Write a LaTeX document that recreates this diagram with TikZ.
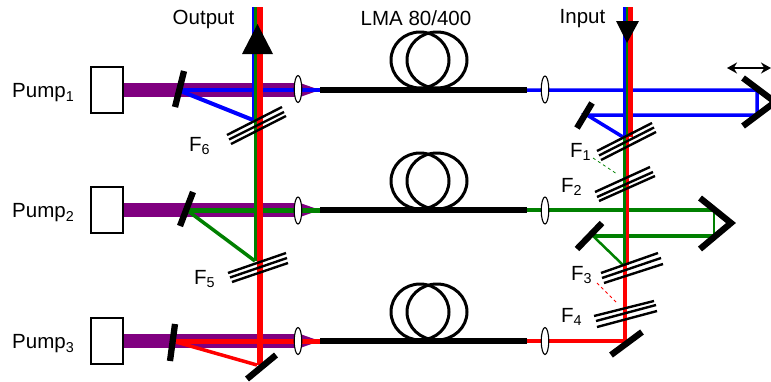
\documentclass[tikz,border=0pt]{standalone}
\usepackage{fontspec}
\setmainfont{Liberation Sans}
\usetikzlibrary{arrows.meta,positioning,shapes.geometric}

\begin{document}
\begin{tikzpicture}[x=1pt,y=-1pt,
		pumpbox/.style={draw,line width=1.3pt,minimum width=32pt,minimum height=46pt,inner sep=0pt},
		lens/.style={draw,ellipse,fill=white,line width=1.1pt,minimum width=7.5pt,minimum height=27pt,inner sep=0pt},
		lbl/.style={inner sep=0pt,font=\fontsize{20.5}{23}\selectfont},
		fibre/.style={line width=5.5pt},
		mirror/.style={line width=6.3pt},
		pumpbeam/.style={line width=14pt,color=beampurple},
		filterline/.style={line width=2.4pt},
		coil/.style={line width=3pt}]
		\definecolor{beampurple}{RGB}{128,0,128}
		\definecolor{beamgreen}{RGB}{0,128,0}
		\useasboundingbox (0,0) rectangle (771,381);
		% pumps
		\node[pumpbox] (pumpa) at (107,90) {};
		\node[pumpbox] (pumpb) at (107,210) {};
		\node[pumpbox] (pumpc) at (107,341) {};
		\node[lbl,anchor=west] (pumpatext) at (12,93) {Pump\textsubscript{1}};
		\node[lbl,anchor=west] (pumpbtext) at (12,213) {Pump\textsubscript{2}};
		\node[lbl,anchor=west] (pumpctext) at (12,344) {Pump\textsubscript{3}};
		% purple beams
		\draw[pumpbeam] (pumpa.east) -- (298,90);
		\draw[pumpbeam] (pumpb.east) -- (298,210);
		\draw[pumpbeam] (pumpc.east) -- (298,341);
		\fill[beampurple] (300,83) -- (320,90) -- (300,97) -- cycle;
		\fill[beampurple] (300,203) -- (320,210) -- (300,217) -- cycle;
		\fill[beampurple] (300,334) -- (320,341) -- (300,348) -- cycle;
		% horizontal beams, left side
		\draw[blue,line width=4pt] (178,90) -- (320,90);
		\draw[blue,line width=4pt] (178,90) -- (253,120);
		\draw[beamgreen,line width=5pt] (188,210) -- (320,210);
		\draw[beamgreen,line width=3.5pt] (188,211) -- (255,261);
		\draw[red,line width=5pt] (176,341) -- (320,341);
		\draw[red,line width=3.5pt] (176,342) -- (257,365);
		% fibres
		\draw[fibre] (320,90) -- (527,90);
		\draw[fibre] (320,210) -- (527,210);
		\draw[fibre] (320,341) -- (527,341);
		\draw[coil] (420,60) ellipse (29pt and 28pt);
		\draw[coil] (437,60) ellipse (30pt and 28pt);
		\draw[coil] (420,181) ellipse (29pt and 28pt);
		\draw[coil] (437,181) ellipse (30pt and 28pt);
		\draw[coil] (420,312) ellipse (29pt and 28pt);
		\draw[coil] (437,312) ellipse (30pt and 28pt);
		\node[lbl] (fibretext) at (416,18) {LMA 80/400};
		% horizontal beams, right side
		\draw[blue,line width=3.5pt] (527,90) -- (757,90) -- (757,115) -- (587,115) -- (623,137);
		\draw[beamgreen,line width=4pt] (527,210) -- (714,210);
		\draw[beamgreen,line width=2.5pt] (714,210) -- (714,236);
		\draw[beamgreen,line width=4pt] (714,236) -- (593,236);
		\draw[beamgreen,line width=2.5pt] (593,236) -- (623,265);
		\draw[red,line width=4pt] (527,341) -- (625,341);
		% output column
		\draw[blue,line width=2.5pt] (253.3,7) -- (253.3,120);
		\draw[beamgreen,line width=2.3pt] (255.6,7) -- (255.6,261);
		\draw[red,line width=6.3pt] (259.8,7) -- (259.8,365);
		% input column
		\draw[blue,line width=2.8pt] (624.6,7) -- (624.6,137);
		\draw[red,line width=5pt] (630.5,7) -- (630.5,137);
		\draw[beamgreen,line width=2.2pt] (627,7) -- (627,137);
		\draw[beamgreen,line width=3.4pt] (624.4,137) -- (624.4,265);
		\draw[red,line width=3.4pt] (627.6,137) -- (627.6,265);
		\draw[red,line width=3.4pt] (625,265) -- (625,341);
		% lenses
		\node[lens] (lensa) at (298,89) {};
		\node[lens] (lensb) at (298,210.5) {};
		\node[lens] (lensc) at (298,341) {};
		\node[lens] (lensd) at (545,89.5) {};
		\node[lens] (lense) at (545,210.5) {};
		\node[lens] (lensf) at (545,341) {};
		% mirrors
		\draw[mirror] (184,71) -- (175,107);
		\draw[mirror] (193,192) -- (180,226);
		\draw[mirror] (175,324) -- (170,361);
		\draw[mirror] (276,355) -- (247,379);
		\draw[mirror] (592,103) -- (577,128);
		\draw[mirror] (602,223) -- (577,249);
		\draw[mirror] (642,332) -- (611,355);
		\draw[mirror,line join=miter] (743,78) -- (775,102) -- (743,126);
		\draw[mirror,line join=miter] (700,198) -- (731,223) -- (700,249);
		% filters
		\draw[filterline] (227,135) -- (282,107) (229,139.5) -- (284,112) (231,144) -- (286,116);
		\draw[filterline] (228,273) -- (286,253) (230,277.5) -- (287,258) (232,282) -- (288,263);
		\draw[filterline] (597,151) -- (652,123) (599,155.5) -- (654,127.5) (601,160) -- (656,132);
		\draw[filterline] (595,192) -- (650,167) (597,197) -- (653,172) (599,201) -- (655,176);
		\draw[filterline] (601,273) -- (658,253) (602,278) -- (661,258) (604,283) -- (663,264);
		\draw[filterline] (594,316) -- (654,301) (596,321) -- (656,305) (597,327) -- (657,311);
		\draw[beamgreen,dashed,line width=0.8pt] (593,158) -- (617,174);
		\draw[red,dashed,line width=0.8pt] (597,283) -- (617,303);
		% arrows
		\fill (257.5,24) -- (242,54) -- (273,54) -- cycle;
		\fill (616,21) -- (639,21) -- (627,43) -- cycle;
		\draw[{Stealth[length=10pt,width=11pt]}-{Stealth[length=10pt,width=11pt]},line width=1.8pt] (727,68) -- (771,68);
		% labels
		\node[lbl] (outputtext) at (203.5,19) {Output};
		\node[lbl] (inputtext) at (582.5,19) {Input};
		\node[lbl,anchor=west] (fsix) at (189,146) {F\textsubscript{6}};
		\node[lbl,anchor=west] (ffive) at (194,279) {F\textsubscript{5}};
		\node[lbl,anchor=west] (fone) at (570,152) {F\textsubscript{1}};
		\node[lbl,anchor=west] (ftwo) at (561,187) {F\textsubscript{2}};
		\node[lbl,anchor=west] (fthree) at (571,275) {F\textsubscript{3}};
		\node[lbl,anchor=west] (ffour) at (561,317) {F\textsubscript{4}};
\end{tikzpicture}
\end{document}
